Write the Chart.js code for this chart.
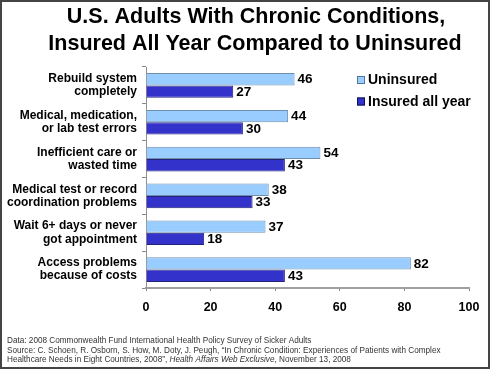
<!DOCTYPE html>
<html><head><meta charset="utf-8">
<script src="https://cdn.jsdelivr.net/npm/chart.js@4/dist/chart.umd.min.js"></script>
<style>html,body{margin:0;padding:0;background:#fff;}canvas{display:block;}</style>
</head><body>
<div style="width:490px;height:369px;position:relative"><canvas id="c" width="490" height="369"></canvas></div>
<script>
const categories = [
  ["Rebuild system", "completely"],
  ["Medical, medication,", "or lab test errors"],
  ["Inefficient care or", "wasted time"],
  ["Medical test or record", "coordination problems"],
  ["Wait 6+ days or never", "got appointment"],
  ["Access problems", "because of costs"]
];
const uninsured = [46, 44, 54, 38, 37, 82];
const insuredAllYear = [27, 30, 43, 33, 18, 43];
const seriesNames = ["Uninsured", "Insured all year"];
const xTicks = [0, 20, 40, 60, 80, 100];
const titleLines = ["U.S. Adults With Chronic Conditions,", "Insured All Year Compared to Uninsured"];
const footerLines = [
  [["Data: 2008 Commonwealth Fund International Health Policy Survey of Sicker Adults", false]],
  [["Source: C. Schoen, R. Osborn, S. How, M. Doty, J. Peugh, \u201cIn Chronic Condition: Experiences of Patients with Complex", false]],
  [["Healthcare Needs in Eight Countries, 2008\u201d, ", false], ["Health Affairs Web Exclusive", true], [", November 13, 2008", false]]
];
const colors = ["#99CCFF", "#3333CC"];
const borders = ["#6F8FAF", "#22227A"];

const F = "Arial, 'Liberation Sans', sans-serif";

const decor = {
  id: 'decor',
  afterDraw(chart) {
    const ctx = chart.ctx;
    ctx.save();
    // title
    ctx.fillStyle = '#000';
    ctx.textAlign = 'center';
    ctx.textBaseline = 'middle';
    ctx.font = "bold 21.5px " + F;
    ctx.fillText(titleLines[0], 256, 17);
    ctx.fillText(titleLines[1], 255, 44);
    // data labels
    ctx.font = "bold 13.5px " + F;
    ctx.textAlign = 'left';
    chart.data.datasets.forEach((ds, i) => {
      chart.getDatasetMeta(i).data.forEach((bar, j) => {
        ctx.fillText(String(ds.data[j]), bar.x + 3, bar.y + 0.5);
      });
    });
    // legend
    ctx.font = "bold 14px " + F;
    seriesNames.forEach((n, i) => {
      const y = 80 + i * 21.5;
      ctx.fillStyle = colors[i];
      ctx.fillRect(357, y - 4, 8, 8);
      ctx.strokeStyle = i === 0 ? '#557799' : '#111155';
      ctx.lineWidth = 1;
      ctx.strokeRect(357.5, y - 3.5, 7, 7);
      ctx.fillStyle = '#000';
      ctx.fillText(n, 368, y + 0.5);
    });
    // footer
    ctx.fillStyle = '#333';
    ctx.textBaseline = 'alphabetic';
    footerLines.forEach((parts, k) => {
      let x = 7;
      const y = 343 + k * 9.7;
      parts.forEach(([t, it]) => {
        ctx.font = (it ? "italic " : "") + "8.2px " + F;
        ctx.fillText(t, x, y);
        x += ctx.measureText(t).width;
      });
    });
    // border
    ctx.strokeStyle = '#444';
    ctx.lineWidth = 2;
    ctx.strokeRect(1, 1, 488, 367);
    ctx.restore();
  }
};

new Chart(document.getElementById('c'), {
  type: 'bar',
  data: {
    labels: categories,
    datasets: [
      { label: seriesNames[0], data: uninsured, backgroundColor: colors[0], borderColor: borders[0], borderWidth: 1 },
      { label: seriesNames[1], data: insuredAllYear, backgroundColor: colors[1], borderColor: borders[1], borderWidth: 1 }
    ]
  },
  options: {
    indexAxis: 'y',
    responsive: false,
    animation: false,
    events: [],
    categoryPercentage: 0.67,
    barPercentage: 1.0,
    layout: { padding: { left: 0, right: 21, top: 67, bottom: 52 } },
    plugins: { legend: { display: false }, title: { display: false }, tooltip: { enabled: false } },
    scales: {
      x: {
        min: 0, max: 100,
        afterBuildTicks: s => { s.ticks = xTicks.map(v => ({ value: v })); },
        afterFit: s => { s.height = 29; },
        border: { display: true, color: '#A0A0A0', width: 2 },
        grid: { drawOnChartArea: false, drawTicks: true, tickLength: 3, color: '#888' },
        ticks: { color: '#000', font: { family: F, size: 12.5, weight: 'bold' }, padding: 9 }
      },
      y: {
        afterFit: s => { s.width = 146; },
        border: { display: true, color: '#909090', width: 1 },
        grid: { offset: true, drawOnChartArea: false, drawTicks: true, tickLength: 4, color: '#888' },
        ticks: { color: '#000', font: { family: F, size: 12, weight: 'bold', lineHeight: 1.1 }, padding: 5 }
      }
    }
  },
  plugins: [decor]
});
</script>
</body></html>
